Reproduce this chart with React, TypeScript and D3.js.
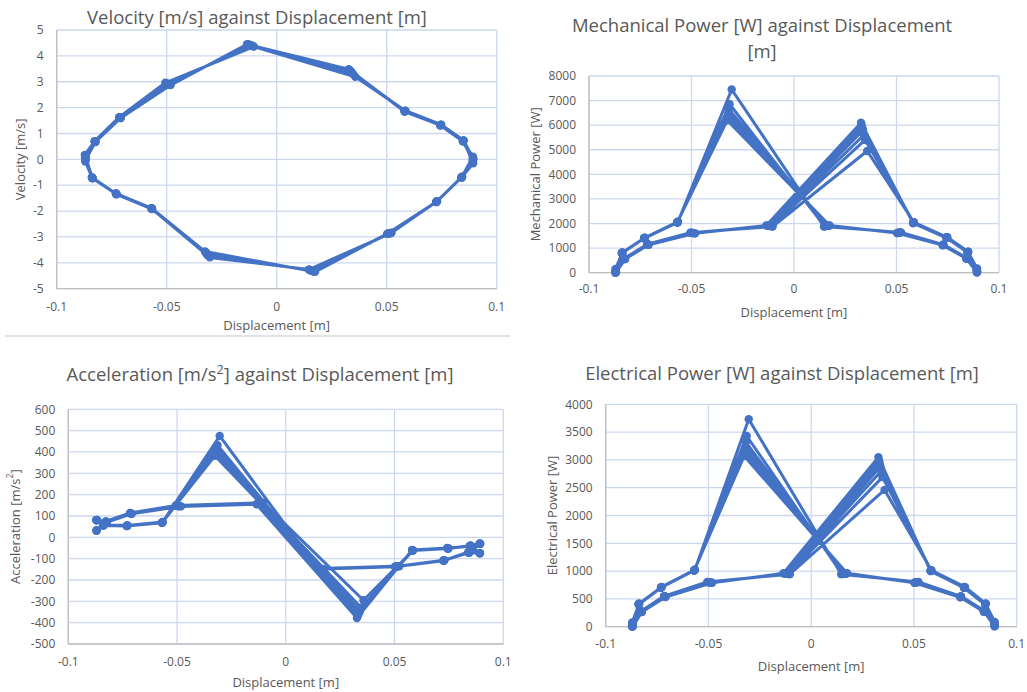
import React from 'react';
import * as d3 from 'd3';

// one row per cycle, 18 samples per cycle, shared by all four charts
const displacement: number[][] = [
  [-0.0872, -0.0828, -0.0716, -0.0506, -0.0104, 0.0357, 0.0585, 0.0748, 0.0850, 0.0894, 0.0843, 0.0729, 0.0522, 0.0146, -0.0304, -0.0566, -0.0728, -0.0837],
  [-0.0871, -0.0827, -0.0714, -0.0502, -0.0110, 0.0347, 0.0584, 0.0746, 0.0849, 0.0893, 0.0842, 0.0728, 0.0518, 0.0150, -0.0314, -0.0567, -0.0729, -0.0838],
  [-0.0870, -0.0826, -0.0713, -0.0498, -0.0115, 0.0341, 0.0583, 0.0745, 0.0848, 0.0893, 0.0842, 0.0727, 0.0514, 0.0156, -0.0318, -0.0568, -0.0729, -0.0838],
  [-0.0870, -0.0825, -0.0712, -0.0494, -0.0120, 0.0337, 0.0582, 0.0745, 0.0848, 0.0892, 0.0841, 0.0727, 0.0510, 0.0162, -0.0320, -0.0568, -0.0730, -0.0839],
  [-0.0869, -0.0825, -0.0711, -0.0490, -0.0125, 0.0333, 0.0582, 0.0744, 0.0847, 0.0892, 0.0841, 0.0726, 0.0507, 0.0167, -0.0322, -0.0569, -0.0730, -0.0839],
  [-0.0869, -0.0824, -0.0710, -0.0486, -0.0130, 0.0330, 0.0581, 0.0744, 0.0847, 0.0891, 0.0840, 0.0726, 0.0504, 0.0171, -0.0324, -0.0569, -0.0731, -0.0840],
  [-0.0868, -0.0824, -0.0709, -0.0482, -0.0135, 0.0327, 0.0581, 0.0743, 0.0846, 0.0891, 0.0840, 0.0725, 0.0502, 0.0174, -0.0326, -0.0570, -0.0731, -0.0840],
];

const velocity: number[][] = [
  [0.17, 0.70, 1.63, 2.96, 4.36, 3.19, 1.88, 1.34, 0.73, 0.00, -0.67, -1.62, -2.84, -4.26, -3.79, -1.92, -1.35, -0.73],
  [0.05, 0.69, 1.62, 2.94, 4.38, 3.30, 1.87, 1.33, 0.72, -0.15, -0.68, -1.63, -2.85, -4.28, -3.71, -1.91, -1.34, -0.72],
  [-0.08, 0.68, 1.62, 2.92, 4.40, 3.36, 1.87, 1.33, 0.72, 0.05, -0.68, -1.63, -2.86, -4.30, -3.66, -1.91, -1.34, -0.72],
  [0.12, 0.69, 1.61, 2.90, 4.42, 3.40, 1.86, 1.33, 0.71, -0.08, -0.69, -1.64, -2.86, -4.32, -3.62, -1.90, -1.33, -0.71],
  [0.00, 0.68, 1.61, 2.89, 4.43, 3.43, 1.86, 1.32, 0.71, 0.10, -0.69, -1.64, -2.87, -4.33, -3.60, -1.90, -1.33, -0.71],
  [-0.04, 0.68, 1.60, 2.88, 4.44, 3.46, 1.86, 1.32, 0.70, -0.03, -0.70, -1.65, -2.87, -4.34, -3.58, -1.89, -1.33, -0.70],
  [0.08, 0.67, 1.60, 2.87, 4.45, 3.48, 1.85, 1.32, 0.70, 0.02, -0.70, -1.65, -2.88, -4.35, -3.56, -1.89, -1.32, -0.70],
];

const acceleration: number[][] = [
  [81, 74, 114, 149, 162, -295, -62, -52, -38, -30, -72, -108, -136, -146, 475, 72, 56, 58],
  [31, 73, 113, 148, 160, -330, -62, -52, -40, -75, -71, -107, -135, -147, 432, 71, 55, 57],
  [80, 72, 112, 147, 159, -345, -61, -52, -40, -31, -72, -108, -136, -147, 415, 70, 55, 58],
  [33, 72, 112, 147, 158, -355, -61, -51, -41, -74, -71, -108, -137, -148, 405, 70, 54, 57],
  [81, 71, 111, 146, 157, -362, -60, -51, -41, -29, -70, -109, -137, -148, 396, 69, 54, 56],
  [32, 71, 111, 146, 156, -370, -60, -51, -42, -75, -70, -109, -138, -149, 388, 68, 53, 56],
  [80, 70, 110, 145, 155, -378, -59, -50, -42, -30, -69, -110, -138, -149, 382, 68, 53, 55],
];

const mechPower: number[][] = [
  [0, 580, 1160, 1630, 1880, 4950, 2050, 1440, 850, 40, 600, 1140, 1640, 1880, 7450, 2070, 1420, 820],
  [150, 575, 1150, 1625, 1890, 5400, 2040, 1440, 845, 170, 595, 1135, 1635, 1890, 6850, 2065, 1415, 815],
  [60, 570, 1150, 1620, 1900, 5600, 2035, 1435, 840, 30, 590, 1130, 1630, 1900, 6650, 2060, 1410, 810],
  [20, 565, 1145, 1615, 1905, 5800, 2030, 1430, 840, 90, 590, 1130, 1625, 1905, 6500, 2055, 1410, 805],
  [100, 560, 1140, 1610, 1910, 5900, 2025, 1430, 835, 10, 585, 1125, 1620, 1910, 6380, 2050, 1405, 800],
  [40, 560, 1140, 1605, 1915, 6000, 2020, 1425, 830, 120, 580, 1120, 1615, 1915, 6280, 2045, 1400, 800],
  [10, 555, 1135, 1600, 1920, 6100, 2015, 1420, 830, 50, 580, 1120, 1610, 1920, 6200, 2040, 1400, 795],
];

const elecPower: number[][] = [
  [0, 280, 550, 805, 945, 2460, 1015, 715, 415, 20, 285, 545, 805, 945, 3730, 1025, 715, 415],
  [75, 278, 548, 802, 948, 2690, 1012, 712, 412, 85, 282, 542, 802, 948, 3430, 1022, 712, 412],
  [30, 275, 545, 800, 950, 2800, 1010, 710, 410, 15, 280, 540, 800, 950, 3320, 1020, 710, 410],
  [10, 272, 542, 798, 952, 2880, 1008, 708, 408, 45, 278, 538, 798, 952, 3240, 1018, 708, 408],
  [50, 270, 540, 795, 955, 2940, 1005, 705, 405, 5, 275, 535, 795, 955, 3170, 1015, 705, 405],
  [20, 268, 538, 792, 958, 2990, 1002, 702, 402, 60, 272, 532, 792, 958, 3110, 1012, 702, 402],
  [5, 265, 535, 790, 960, 3050, 1000, 700, 400, 25, 270, 530, 790, 960, 3070, 1010, 700, 400],
];

const xTicks = [-0.1, -0.05, 0, 0.05, 0.1];
const velocityTicks = [-5, -4, -3, -2, -1, 0, 1, 2, 3, 4, 5];
const accelTicks = [-500, -400, -300, -200, -100, 0, 100, 200, 300, 400, 500, 600];
const mechTicks = [0, 1000, 2000, 3000, 4000, 5000, 6000, 7000, 8000];
const elecTicks = [0, 500, 1000, 1500, 2000, 2500, 3000, 3500, 4000];

const BLUE = '#4472C4';
const TEXT = '#595959';
const GRID = '#cdd8ee';
const AXIS = '#bfbfbf';
const FONT = '"Open Sans", "Noto Sans", sans-serif';

type Box = { left: number; right: number; top: number; bottom: number };

type ChartProps = {
  ys: number[][];
  yTicks: number[];
  box: Box;
  title: React.ReactNode[];
  titleX: number;
  titleY: number;
  yTitle: React.ReactNode;
  yTitleX: number;
  xLabelY: number;
  xTitleY: number;
};

const Chart = ({ ys, yTicks, box, title, titleX, titleY, yTitle, yTitleX, xLabelY, xTitleY }: ChartProps) => {
  const x = d3.scaleLinear().domain([xTicks[0], xTicks[xTicks.length - 1]]).range([box.left, box.right]);
  const y = d3.scaleLinear().domain([yTicks[0], yTicks[yTicks.length - 1]]).range([box.bottom, box.top]);

  const pts: [number, number][] = [];
  displacement.forEach((cyc, c) => cyc.forEach((d, i) => pts.push([d, ys[c][i]])));

  const line = d3.line<[number, number]>().x(d => x(d[0])).y(d => y(d[1]));

  return (
    <g fontFamily={FONT} fill={TEXT}>
      {title.map((t, i) => (
        <text key={i} x={titleX} y={titleY + i * 26} textAnchor="middle" fontSize={18.5}>{t}</text>
      ))}
      {yTicks.map(t => (
        <line key={'h' + t} x1={box.left} x2={box.right} y1={y(t)} y2={y(t)} stroke={GRID} strokeWidth={1.3} />
      ))}
      {xTicks.map(t => (
        <line key={'v' + t} x1={x(t)} x2={x(t)} y1={box.top} y2={box.bottom} stroke={GRID} strokeWidth={1.3} />
      ))}
      <line x1={box.left} x2={box.right} y1={box.bottom} y2={box.bottom} stroke={AXIS} strokeWidth={1.3} />
      <line x1={box.left} x2={box.left} y1={box.top} y2={box.bottom} stroke={AXIS} strokeWidth={1.3} />
      {yTicks.map(t => (
        <text key={'yl' + t} x={box.left - 13} y={y(t)} dy="0.35em" textAnchor="end" fontSize={12}>{String(t)}</text>
      ))}
      {xTicks.map(t => (
        <text key={'xl' + t} x={x(t)} y={xLabelY} textAnchor="middle" fontSize={12}>{String(t)}</text>
      ))}
      <text x={(box.left + box.right) / 2} y={xTitleY} textAnchor="middle" fontSize={13}>Displacement [m]</text>
      <text transform={`translate(${yTitleX},${(box.top + box.bottom) / 2}) rotate(-90)`} textAnchor="middle" dy="0.35em" fontSize={13}>{yTitle}</text>
      <path d={line(pts) || ''} fill="none" stroke={BLUE} strokeWidth={3} strokeLinejoin="round" />
      {pts.map((p, i) => (
        <circle key={i} cx={x(p[0])} cy={y(p[1])} r={4.2} fill={BLUE} />
      ))}
    </g>
  );
};

const sup2 = (pre: string, post: string) => (
  <>
    {pre}
    <tspan dy={-7} fontSize="0.68em">2</tspan>
    <tspan dy={7}>{post}</tspan>
  </>
);

export default function App() {
  return (
    <svg width={1027} height={692} style={{ position: 'absolute', left: 0, top: 0, background: '#fff' }}>
      <rect width={1027} height={692} fill="#fff" />
      <Chart
        ys={velocity}
        yTicks={velocityTicks}
        box={{ left: 56.7, right: 496.7, top: 30, bottom: 288.7 }}
        title={['Velocity [m/s] against Displacement [m]']}
        titleX={257}
        titleY={24}
        yTitle="Velocity [m/s]"
        yTitleX={20}
        xLabelY={311}
        xTitleY={330}
      />
      <line x1={5} x2={510} y1={336} y2={336} stroke="#d9d9d9" strokeWidth={1.3} />
      <Chart
        ys={mechPower}
        yTicks={mechTicks}
        box={{ left: 589, right: 999, top: 76, bottom: 272.7 }}
        title={['Mechanical Power [W] against Displacement', '[m]']}
        titleX={762}
        titleY={32}
        yTitle="Mechanical Power [W]"
        yTitleX={535}
        xLabelY={293}
        xTitleY={317}
      />
      <Chart
        ys={acceleration}
        yTicks={accelTicks}
        box={{ left: 68.3, right: 503.3, top: 409.3, bottom: 644 }}
        title={[sup2('Acceleration [m/s', '] against Displacement [m]')]}
        titleX={260}
        titleY={381}
        yTitle={sup2('Acceleration [m/s', ']')}
        yTitleX={15}
        xLabelY={666}
        xTitleY={687}
      />
      <Chart
        ys={elecPower}
        yTicks={elecTicks}
        box={{ left: 605.7, right: 1016.7, top: 404.3, bottom: 626.7 }}
        title={['Electrical Power [W] against Displacement [m]']}
        titleX={782}
        titleY={380}
        yTitle="Electrical Power [W]"
        yTitleX={552}
        xLabelY={648}
        xTitleY={671}
      />
    </svg>
  );
}
